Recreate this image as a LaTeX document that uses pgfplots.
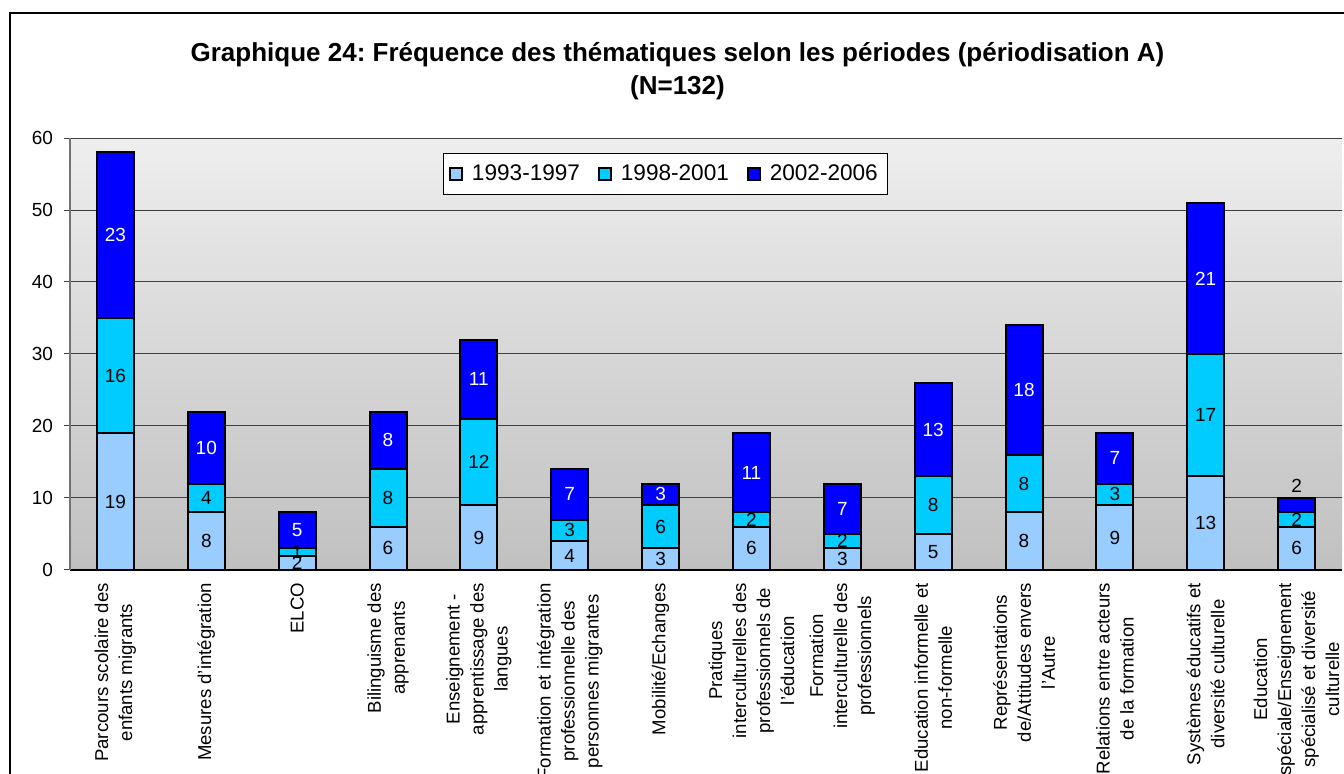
\documentclass[border=0pt]{standalone}
\usepackage{fontspec}
\setmainfont{Liberation Sans}
\usepackage{pgfplots}
\pgfplotsset{compat=1.18}
\usepackage{pgfplotstable}
\frenchspacing
\definecolor{p1}{HTML}{99CCFF}
\definecolor{p2}{HTML}{00CCFF}
\definecolor{p3}{HTML}{0000FF}
\definecolor{bgtop}{HTML}{EEEEEE}
\definecolor{bgbot}{HTML}{C0C0C0}

% counts per theme and period
\pgfplotstableread{
x  a  b  c
0  19 16 23
1  8  4  10
2  2  1  5
3  6  8  8
4  9  12 11
5  4  3  7
6  3  6  3
7  6  2  11
8  3  2  7
9  5  8  13
10 8  8  18
11 9  3  7
12 13 17 21
13 6  2  2
}\freq

% label positions (segment middles), black text
\pgfplotstableread{
x  y    lab
0  9.5  19
0  27   16
1  4    8
1  10   4
2  1    2
2  2.5  1
3  3    6
3  10   8
4  4.5  9
4  15   12
5  2    4
5  5.5  3
6  1.5  3
6  6    6
7  3    6
7  7    2
8  1.5  3
8  4    2
9  2.5  5
9  9    8
10 4    8
10 12   8
11 4.5  9
11 10.5 3
12 6.5  13
12 21.5 17
13 3    6
13 7    2
13 11.7 2
}\labdark

% white text on the dark blue segments
\pgfplotstableread{
x  y    lab
0  46.5 23
1  17   10
2  5.5  5
3  18   8
4  26.5 11
5  10.5 7
6  10.5 3
7  13.5 11
8  8.5  7
9  19.5 13
10 25   18
11 15.5 7
12 40.5 21
}\lablight

\pgfplotsset{
  geom/.style={width=636pt, height=216pt, scale only axis,
    xmin=-0.5, xmax=13.5, ymin=0, ymax=60,
    at={(35pt,102pt)}, anchor=south west},
  vlab/.style={draw=none, mark=none, forget plot,
    nodes near coords, point meta=explicit symbolic,
    every node near coord/.append style={anchor=center, font=\fontsize{9.5}{10}\selectfont, text=#1}},
}

\begin{document}
\begin{tikzpicture}
\path[use as bounding box] (0,0) rectangle (672pt,387pt);
\draw[line width=0.6pt] (5pt,-5pt) -- (5pt,380.5pt) -- (680pt,380.5pt);
\node[font=\fontsize{13}{16.5}\selectfont\bfseries, align=center]
  at (338.75pt,351.25pt)
  {Graphique 24: Fréquence des thématiques selon les périodes (périodisation A)\\(N=132)};

\begin{axis}[geom,
  ybar stacked, bar width=18.5pt,
  axis background/.style={top color=bgtop, bottom color=bgbot},
  axis x line*=bottom, axis y line*=left,
  x axis line style={black, line width=0.6pt},
  y axis line style={black!55, line width=0.6pt},
  ytick={0,10,...,60}, ymajorgrids,
  major grid style={black!75, line width=0.5pt},
  tick align=outside, major tick length=3pt,
  ytick style={black!75, line width=0.5pt},
  yticklabel style={font=\fontsize{9.5}{10}\selectfont, xshift=-2pt},
  /pgf/number format/assume math mode=true,
  xtick={0,...,13}, xtick style={draw=none},
  extra x ticks={0.5,1.5,...,13.5}, extra x tick labels={},
  extra x tick style={grid=none, major tick length=4pt, tick style={draw=black!75, line width=0.5pt}},
  xticklabel style={rotate=90, anchor=east, align=center,
    font=\fontsize{9.3}{12}\selectfont},
  xticklabels={
    {Parcours scolaire des\\enfants migrants},
    {Mesures d'intégration},
    {ELCO},
    {Bilinguisme des\\apprenants},
    {Enseignement -\\apprentissage des\\langues},
    {Formation et intégration\\professionnelle des\\personnes migrantes},
    {Mobilité/Echanges},
    {Pratiques\\interculturelles des\\professionnels de\\l'éducation},
    {Formation\\interculturelle des\\professionnels},
    {Education informelle et\\non-formelle},
    {Représentations\\de/Attitudes envers\\l'Autre},
    {Relations entre acteurs\\de la formation},
    {Systèmes éducatifs et\\diversité culturelle},
    {Education\\spéciale/Enseignement\\spécialisé et diversité\\culturelle}},
  legend columns=3,
  legend style={at={(0.293,0.965)}, anchor=north west, draw=black,
    line width=0.5pt, fill=white, font=\fontsize{11.3}{12}\selectfont,
    inner xsep=3pt, inner ysep=3.5pt,
    /tikz/every even column/.append style={column sep=7pt}},
  legend image code/.code={\draw[#1, draw=black, line width=0.8pt] (0pt,-3pt) rectangle (6pt,3pt); \path (8.5pt,0pt);},
  clip=false,
]
\addplot[fill=p1, draw=black, line width=1pt] table[x=x, y=a] {\freq};
\addplot[fill=p2, draw=black, line width=1pt] table[x=x, y=b] {\freq};
\addplot[fill=p3, draw=black, line width=1pt] table[x=x, y=c] {\freq};
\legend{1993-1997, 1998-2001, 2002-2006}
\end{axis}

\begin{axis}[geom, hide axis, clip=false]
\addplot[vlab=black] table[x=x, y=y, meta=lab] {\labdark};
\addplot[vlab=white] table[x=x, y=y, meta=lab] {\lablight};
\end{axis}
\end{tikzpicture}
\end{document}
